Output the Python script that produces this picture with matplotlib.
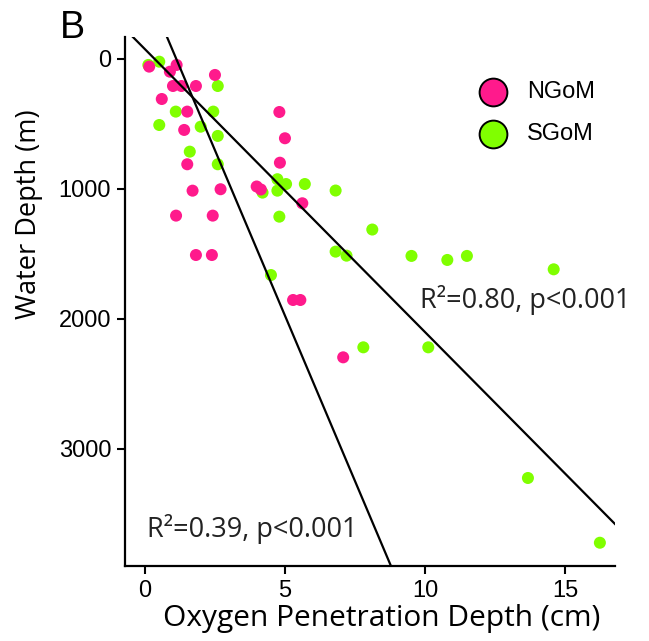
import matplotlib
matplotlib.use("Agg")
import matplotlib.pyplot as plt
import numpy as np

# oxygen penetration depth (cm) vs water depth (m)
ngom_opd = [0.15, 1.13, 0.89, 2.5, 1.0, 1.3, 1.82, 0.6, 1.51, 4.8, 1.4, 5.0,
            1.51, 4.82, 1.7, 2.7, 3.99, 4.14, 5.62, 1.11, 2.42, 1.82, 2.39,
            5.29, 5.55, 7.08]
ngom_depth = [59, 46, 98, 123, 208, 208, 208, 308, 405, 408, 546, 610,
              810, 798, 1013, 1002, 981, 1004, 1110, 1205, 1205, 1508, 1508,
              1854, 1854, 2295]

sgom_opd = [0.12, 0.51, 2.6, 1.1, 2.44, 0.51, 1.99, 2.6, 1.6, 2.6, 4.2,
            4.73, 4.73, 5.04, 5.71, 6.81, 4.8, 8.12, 6.81, 7.2, 9.52, 10.8,
            11.5, 14.6, 4.5, 7.8, 10.12, 13.68, 16.25]
sgom_depth = [46, 21, 208, 405, 405, 508, 521, 592, 713, 810, 1028,
              925, 1013, 962, 962, 1012, 1213, 1312, 1482, 1513, 1515, 1546,
              1515, 1618, 1662, 2218, 2218, 3223, 3721]

# regression lines: depth = intercept + slope * opd
ngom_fit = (-569.0, 508.6)
sgom_fit = (-75.0, 217.5)
ngom_label = "R²=0.39, p<0.001"
sgom_label = "R²=0.80, p<0.001"

pink = "#FF1A8C"
green = "#80FF00"

fig = plt.figure(figsize=(6.49, 6.41), dpi=100)
ax = fig.add_axes([0.1926, 0.117, 0.755, 0.8253])

xlim = (-0.714, 16.79)
ylim = (3900, -169)

# green first so the pink points sit on top, as in the original
ax.scatter(sgom_opd, sgom_depth, s=75, color=green, edgecolors="none", zorder=2)
ax.scatter(ngom_opd, ngom_depth, s=75, color=pink, edgecolors="none", zorder=3)

xx = np.array(xlim)
for b, m in (ngom_fit, sgom_fit):
    ax.plot(xx, b + m * xx, color="black", lw=1.6, zorder=4)

ax.set_xlim(*xlim)
ax.set_ylim(*ylim)

# annotations
ax.text(9.82, 1854, sgom_label, fontsize=19.5, family="Open Sans",
        va="center", ha="left", color="#222222", clip_on=False)
ax.text(0.08, 3615, ngom_label, fontsize=19.5, family="Open Sans",
        va="center", ha="left", color="#222222")

# legend
h1 = ax.scatter([], [], s=400, color=pink, edgecolors="black", linewidths=1.4)
h2 = ax.scatter([], [], s=400, color=green, edgecolors="black", linewidths=1.4)
ax.legend([h1, h2], ["NGoM", "SGoM"], loc="upper left",
          bbox_to_anchor=(0.683, 0.935), frameon=False, handletextpad=0.45,
          labelspacing=0.85, borderaxespad=0,
          prop={"family": "Liberation Sans", "size": 17})

for side in ("top", "right"):
    ax.spines[side].set_visible(False)
for side in ("left", "bottom"):
    ax.spines[side].set_linewidth(1.6)

ax.set_xticks([0, 5, 10, 15])
ax.set_yticks([0, 1000, 2000, 3000])
ax.tick_params(direction="out", length=6, width=1.5, labelsize=17, pad=4)
for lab in ax.get_xticklabels() + ax.get_yticklabels():
    lab.set_family("Liberation Sans")

ax.set_xlabel("Oxygen Penetration Depth (cm)", family="Open Sans",
              fontsize=21.5)
ax.set_ylabel("Water Depth (m)", family="Open Sans", fontsize=19.5)
ax.xaxis.set_label_coords(0.524, -0.072)
ax.yaxis.set_label_coords(-0.168, 0.665)

fig.text(0.093, 0.985, "B", family="Liberation Sans", fontsize=27,
         va="top", ha="left")

fig.savefig("out.png", dpi=100, facecolor="white")
